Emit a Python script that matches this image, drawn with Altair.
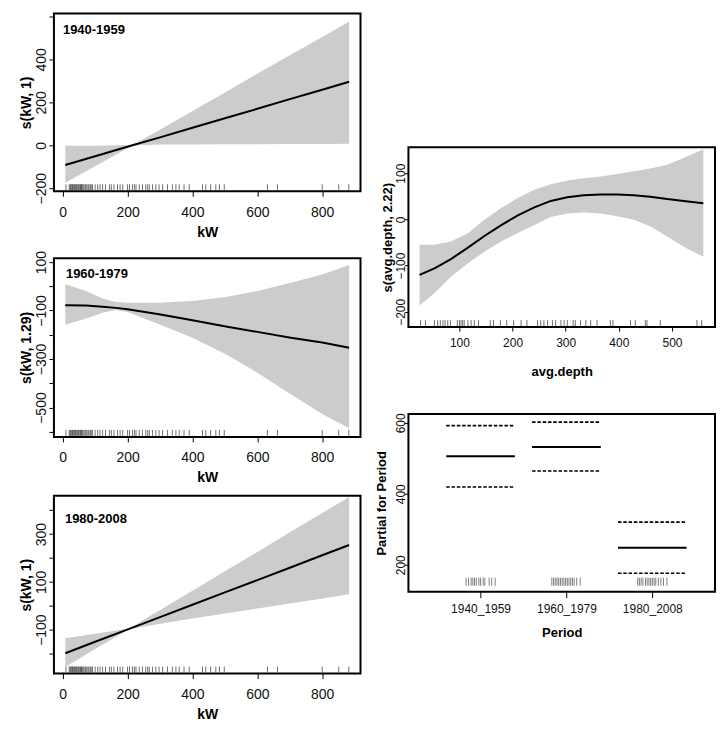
import altair as alt
import pandas as pd

FONT = "Liberation Sans"

# ---------------- data ----------------
kw_rug = [10, 20, 23, 25, 28, 30, 32, 35, 37, 40, 42, 45, 48, 50, 53, 55, 58, 60, 63, 66, 70,
          74, 78, 81, 85, 88, 92, 100, 108, 115, 123, 132, 144, 150, 158, 169, 177, 185, 200,
          206, 215, 221, 226, 236, 246, 256, 262, 267, 277, 287, 297, 308, 323, 338, 349, 359,
          374, 390, 431, 441, 456, 472, 483, 498, 631, 662, 800, 851, 882]

p1_kw = [8, 100, 215, 300, 400, 500, 600, 700, 800, 883]
p1_fit = [-92, -51, 0, 37, 82, 126, 170, 215, 259, 296]
p1_up = [-2, -2, 1, 73, 160, 246, 333, 419, 505, 577]
p1_lo = [-174, -97, -1, 4, 4, 5, 5, 6, 6, 7]

p2_kw = [8, 72, 123, 164, 200, 297, 400, 503, 600, 703, 800, 883]
p2_fit = [-78, -79, -84, -89, -95, -115, -140, -166, -188, -212, -232, -253]
p2_up = [8, -19, -50, -65, -68, -68, -61, -44, -19, 15, 49, 88]
p2_lo = [-159, -133, -109, -98, -106, -157, -212, -280, -356, -445, -527, -585]

p3_kw = [8, 100, 205, 300, 400, 500, 600, 700, 800, 883]
p3_fit = [-199, -151, -97, -48, 4, 56, 107, 159, 211, 254]
p3_up = [-136, -117, -95, -18, 63, 144, 225, 307, 388, 455]
p3_lo = [-257, -181, -99, -75, -54, -33, -12, 9, 30, 48]

depth = [25, 53, 84, 116, 147, 178, 209, 241, 272, 303, 334, 366, 397, 428, 459, 491, 522, 559]
depth_fit = [-120, -106, -86, -61, -36, -13, 8, 26, 40, 48, 52, 54, 54, 52, 49, 44, 40, 35]
depth_up = [-55, -55, -48, -30, -1, 24, 46, 64, 76, 84, 89, 93, 98, 104, 110, 118, 133, 152]
depth_lo = [-186, -160, -124, -95, -70, -48, -30, -12, 5, 13, 15, 13, 7, -1, -15, -37, -59, -81]
depth_rug = [27, 36, 53, 59, 64, 69, 73, 78, 83, 96, 100, 103, 106, 109, 116, 122, 128, 136,
             158, 164, 177, 189, 202, 216, 227, 247, 253, 259, 266, 275, 281, 291, 297, 303,
             314, 318, 328, 338, 347, 359, 384, 389, 422, 431, 450, 453, 478, 547, 556]

periods = ["1940_1959", "1960_1979", "1980_2008"]
period_pos = [1, 2, 3]
period_fit = [506, 532, 248]
period_up = [592, 602, 320]
period_lo = [419, 464, 176]
period_rug = [0.83, 0.86, 0.89, 0.91, 0.93, 0.95, 0.98, 1.0, 1.03, 1.05, 1.1, 1.13, 1.17,
              1.83, 1.85, 1.87, 1.89, 1.91, 1.93, 1.95, 1.97, 1.99, 2.01, 2.03, 2.05, 2.07, 2.09, 2.12, 2.16,
              2.83, 2.85, 2.87, 2.89, 2.92, 2.94, 2.96, 2.98, 3.0, 3.02, 3.04, 3.07, 3.1, 3.13, 3.17]

W = 307
BAND = "#cccccc"


def smooth_panel(xs, fit, up, lo, rug, xdom, ydom, xvals, yvals, ylabels, xtitle, ytitle, label,
                 h, lab_xy, lfs, tfs, tick_y, pad_y, tp_y, tick_x, pad_x, tp_x):
    df = pd.DataFrame({"x": xs, "fit": fit, "up": up, "lo": lo})
    rdf = pd.DataFrame({"x": rug})
    xs_ = alt.Scale(domain=xdom, nice=False, zero=False)
    ys_ = alt.Scale(domain=ydom, nice=False, zero=False)
    lab_expr = "indexof([" + ",".join(str(v) for v in ylabels) + "], datum.value) >= 0 ? datum.label : ''"
    xax = alt.Axis(values=xvals, title=xtitle, tickSize=tick_x, labelPadding=pad_x, titlePadding=tp_x,
                   labelFontSize=lfs, titleFontSize=tfs, labelFlush=False, labelOverlap=False)
    yax = alt.Axis(values=yvals, title=ytitle, labelAngle=-90, labelAlign="center",
                   labelBaseline="alphabetic", tickSize=tick_y, labelPadding=pad_y,
                   titlePadding=tp_y, labelFontSize=lfs, titleFontSize=tfs, labelExpr=lab_expr,
                   labelFlush=False, labelOverlap=False)
    band = alt.Chart(df).mark_area(color=BAND, opacity=1).encode(
        x=alt.X("x:Q", scale=xs_, axis=xax),
        y=alt.Y("up:Q", scale=ys_, axis=yax),
        y2="lo:Q")
    line = alt.Chart(df).mark_line(color="black", strokeWidth=2).encode(
        x=alt.X("x:Q", scale=xs_, axis=xax), y=alt.Y("fit:Q", scale=ys_, axis=yax))
    rugm = alt.Chart(rdf).mark_rule(color="#333333", strokeWidth=0.7).encode(
        x=alt.X("x:Q", scale=xs_, axis=xax), y=alt.value(h - 7), y2=alt.value(h - 1))
    layers = [band, line, rugm]
    if label:
        tdf = pd.DataFrame({"t": [label]})
        txt = alt.Chart(tdf).mark_text(align="left", baseline="middle", fontWeight="bold",
                                       fontSize=13, font=FONT, color="black").encode(
            x=alt.value(lab_xy[0]), y=alt.value(lab_xy[1]), text="t:N")
        layers.append(txt)
    return alt.layer(*layers).properties(width=W, height=h)


p1 = smooth_panel(p1_kw, p1_fit, p1_up, p1_lo, kw_rug, [-27, 918], [-214, 614],
                  [0, 200, 400, 600, 800], [-200, 0, 200, 400, 600], [-200, 0, 200, 400],
                  "kW", "s(kW, 1)", "1940-1959", 178, (9, 17), 14, 14, 5, 3, 1, 5, 9, 6)
p2 = smooth_panel(p2_kw, p2_fit, p2_up, p2_lo, kw_rug, [-27, 918], [-621, 116],
                  [0, 200, 400, 600, 800], [-600, -500, -400, -300, -200, -100, 0, 100],
                  [-500, -300, -100, 100],
                  "kW", "s(kW, 1.29)", "1960-1979", 179, (12, 16), 14, 14, 5, 3, 1, 5, 9, 6)
p3 = smooth_panel(p3_kw, p3_fit, p3_up, p3_lo, kw_rug, [-27, 918], [-284, 460],
                  [0, 200, 400, 600, 800], [-200, -100, 0, 100, 200, 300, 400], [-100, 100, 300],
                  "kW", "s(kW, 1)", "1980-2008", 178, (11, 23), 14, 14, 5, 3, 1, 5, 9, 6)
p4 = smooth_panel(depth, depth_fit, depth_up, depth_lo, depth_rug, [4, 581], [-233, 156],
                  [100, 200, 300, 400, 500], [-200, -100, 0, 100], [-200, -100, 0, 100],
                  "avg.depth", "s(avg.depth, 2.22)", None, 180, (0, 0), 12, 13, 4, 0, 0, 4, 6, 18)

# ---- Period panel ----
pdf = pd.DataFrame({"pos": period_pos, "Period": periods, "fit": period_fit,
                    "up": period_up, "lo": period_lo})
plong = pdf.melt(id_vars=["pos", "Period"], value_vars=["fit", "up", "lo"],
                 var_name="kind", value_name="val")
prug = pd.DataFrame({"x": period_rug})
PX = alt.Scale(domain=[0.16, 3.73], nice=False, zero=False)
PY = alt.Scale(domain=[124, 625], nice=False, zero=False)
plabel = "[" + ",".join("'" + p + "'" for p in [""] + periods) + "][datum.value]"
pxax = alt.Axis(values=period_pos, labelExpr=plabel, title="Period", tickSize=6, labelPadding=6,
                titlePadding=12, labelFontSize=12, titleFontSize=13, labelFlush=False,
                labelOverlap=False)
pyax = alt.Axis(values=[200, 400, 600], title="Partial for Period", labelAngle=-90,
                labelAlign="center", labelBaseline="alphabetic", tickSize=4, labelPadding=0,
                titlePadding=6, labelFontSize=12, titleFontSize=13, labelFlush=False,
                labelOverlap=False)
pbase = alt.Chart(plong).transform_calculate(x0="datum.pos - 0.4", x1="datum.pos + 0.4")
solid = pbase.transform_filter("datum.kind == 'fit'").mark_rule(
    color="black", strokeWidth=2).encode(
    x=alt.X("x0:Q", scale=PX, axis=pxax), x2="x1:Q",
    y=alt.Y("val:Q", scale=PY, axis=pyax))
dashed = pbase.transform_filter("datum.kind != 'fit'").mark_rule(
    color="black", strokeWidth=1.6, strokeDash=[3.5, 1.8]).encode(
    x=alt.X("x0:Q", scale=PX, axis=pxax), x2="x1:Q", y=alt.Y("val:Q", scale=PY, axis=pyax))
prugm = alt.Chart(prug).mark_rule(color="#444444", strokeWidth=0.7).encode(
    x=alt.X("x:Q", scale=PX, axis=pxax), y=alt.value(178 - 14), y2=alt.value(178 - 6))
p5 = alt.layer(solid, dashed, prugm).properties(width=W, height=178)

spacer = alt.Chart(pd.DataFrame({"a": [0]})).mark_point(opacity=0).encode(
    x=alt.X("a:Q", axis=None), y=alt.Y("a:Q", axis=None)
).properties(width=10, height=102, view=alt.ViewBackground(strokeOpacity=0))

left = alt.vconcat(p1, p2, p3, spacing=9)
right = alt.concat(spacer, p4, p5, columns=1, spacing=31, align="none")

chart = alt.hconcat(left, right, spacing=13).properties(
    padding={"left": 10, "top": 4, "right": 0, "bottom": 0},
    background="white"
).configure_view(stroke="black", strokeWidth=2).configure_axis(
    domain=False, grid=False, tickColor="black", tickWidth=1, labelOverlap=False,
    labelFont=FONT, titleFont=FONT, labelColor="#111111", titleColor="black",
    titleFontWeight="bold"
)

chart.save("out.html", embed_options={"renderer": "svg", "actions": False})
